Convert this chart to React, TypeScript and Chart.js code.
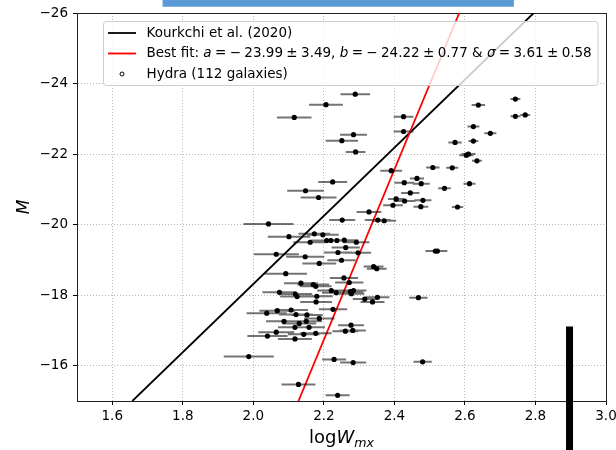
import React, { useEffect, useRef } from 'react';
import { Chart, registerables } from 'chart.js';

Chart.register(...registerables);

// ---- axis ticks ----
const X_TICKS = [1.6, 1.8, 2.0, 2.2, 2.4, 2.6, 2.8, 3.0];
const Y_TICKS = [-26, -24, -22, -20, -18, -16];

// ---- Hydra galaxies: log W_mx, absolute magnitude M, error on log W ----
const LOGW = [
  2.289, 2.206, 2.116, 2.284, 2.251, 2.290, 2.426, 2.426, 2.743, 2.638,
  2.743, 2.771, 2.624, 2.672, 2.572, 2.624, 2.610, 2.604, 2.634, 2.509,
  2.564, 2.391, 2.464, 2.428, 2.476, 2.613, 2.542, 2.445, 2.405, 2.429,
  2.481, 2.396, 2.475, 2.579, 2.516, 2.522, 2.225, 2.148, 2.185, 2.328,
  2.252, 2.353, 2.371, 2.043, 2.101, 2.173, 2.197, 2.161, 2.208, 2.220,
  2.237, 2.258, 2.292, 2.262, 2.240, 2.297, 2.065, 2.147, 2.250, 2.187,
  2.341, 2.350, 2.092, 2.257, 2.272, 2.135, 2.170, 2.177, 2.074, 2.119,
  2.124, 2.221, 2.235, 2.275, 2.284, 2.278, 2.316, 2.352, 2.338, 2.468,
  2.178, 2.226, 2.068, 2.107, 2.038, 2.121, 2.152, 2.187, 2.087, 2.130,
  2.150, 2.277, 2.118, 2.158, 2.261, 2.282, 2.065, 2.040, 2.143, 2.177,
  2.118, 1.987, 2.229, 2.283, 2.480, 2.128, 2.239, 2.180,
];
const MAG = [
  -23.70, -23.40, -23.04, -22.55, -22.38, -22.06, -23.06, -22.64, -23.56, -23.39,
  -23.07, -23.11, -22.78, -22.59, -22.33, -22.37, -22.00, -21.97, -21.81, -21.62,
  -21.61, -21.53, -21.31, -21.19, -21.16, -21.16, -21.03, -20.90, -20.73, -20.67,
  -20.69, -20.55, -20.51, -20.50, -19.25, -19.25, -21.21, -20.96, -20.77, -20.36,
  -20.13, -20.13, -20.11, -20.02, -19.66, -19.74, -19.71, -19.50, -19.55, -19.55,
  -19.55, -19.56, -19.50, -19.35, -19.21, -19.20, -19.16, -19.09, -18.99, -18.90,
  -18.81, -18.75, -18.61, -18.49, -18.36, -18.34, -18.30, -18.25, -18.08, -18.03,
  -17.96, -18.13, -18.07, -18.10, -18.13, -18.04, -17.89, -17.94, -17.81, -17.93,
  -17.81, -17.60, -17.56, -17.58, -17.49, -17.45, -17.44, -17.34, -17.26, -17.20,
  -17.26, -17.15, -17.09, -17.09, -16.98, -17.00, -16.95, -16.84, -16.89, -16.92,
  -16.76, -16.26, -16.18, -16.09, -16.11, -15.47, -15.16, -17.97,
];
const LOGW_ERR = [
  0.042, 0.048, 0.049, 0.038, 0.046, 0.028, 0.028, 0.028, 0.014, 0.019,
  0.014, 0.014, 0.017, 0.017, 0.019, 0.014, 0.020, 0.020, 0.014, 0.019,
  0.017, 0.031, 0.020, 0.028, 0.024, 0.017, 0.018, 0.026, 0.023, 0.031,
  0.024, 0.028, 0.021, 0.016, 0.028, 0.028, 0.041, 0.052, 0.051, 0.035,
  0.037, 0.037, 0.034, 0.071, 0.060, 0.045, 0.045, 0.048, 0.045, 0.040,
  0.040, 0.040, 0.037, 0.040, 0.040, 0.037, 0.064, 0.054, 0.040, 0.048,
  0.028, 0.028, 0.060, 0.040, 0.040, 0.048, 0.045, 0.045, 0.048, 0.048,
  0.048, 0.040, 0.040, 0.037, 0.037, 0.037, 0.034, 0.034, 0.034, 0.026,
  0.045, 0.040, 0.051, 0.048, 0.057, 0.048, 0.045, 0.043, 0.051, 0.048,
  0.045, 0.037, 0.048, 0.045, 0.037, 0.037, 0.051, 0.057, 0.045, 0.045,
  0.048, 0.071, 0.034, 0.037, 0.026, 0.048, 0.034, 0.045,
];

// ---- relations ----
const KOURKCHI_X = [1.657, 2.795];
const KOURKCHI_Y = [-15, -26];
const FIT_X = [2.128, 2.584];
const FIT_Y = [-15, -26];

// ---- overlay bars present in the picture ----
const BLUE_BAR_X = [1.7426, 2.7389];
const BLUE_BAR_Y = [-26.29, -26.29];
const BLACK_BAR_X = [2.8966, 2.8966];
const BLACK_BAR_Y = [-17.11, -13.4];

const SP = '\u2005';
const LEGEND_ROWS = [
  { kind: 'line', color: '#000000', parts: [{ t: 'Kourkchi et al. (2020)', i: false }] },
  {
    kind: 'line', color: '#ff0000', parts: [
      { t: 'Best fit: ', i: false }, { t: 'a', i: true },
      { t: `${SP}=${SP}\u2212${SP}23.99${SP}\u00b1${SP}3.49, `, i: false },
      { t: 'b', i: true },
      { t: `${SP}=${SP}\u2212${SP}24.22${SP}\u00b1${SP}0.77 & `, i: false },
      { t: '\u03c3', i: true },
      { t: `${SP}=${SP}3.61${SP}\u00b1${SP}0.58`, i: false },
    ],
  },
  { kind: 'marker', color: '#000000', parts: [{ t: 'Hydra (112 galaxies)', i: false }] },
];

const FONT = "'DejaVu Sans', sans-serif";

const legendPlugin = {
  id: 'mplLegend',
  afterDatasetsDraw(chart: any) {
    const { ctx, chartArea } = chart;
    const x0 = chartArea.left + 26;
    const y0 = chartArea.top + 8;
    const w = 494.5;
    const h = 64;
    ctx.save();
    ctx.beginPath();
    if (ctx.roundRect) ctx.roundRect(x0 + 0.5, y0 + 0.5, w, h, 3);
    else ctx.rect(x0 + 0.5, y0 + 0.5, w, h);
    ctx.fillStyle = 'rgba(255,255,255,0.8)';
    ctx.fill();
    ctx.strokeStyle = '#cccccc';
    ctx.lineWidth = 1;
    ctx.stroke();
    LEGEND_ROWS.forEach((row, k) => {
      const yc = y0 + 12 + k * 20.5;
      if (row.kind === 'line') {
        ctx.beginPath();
        ctx.moveTo(x0 + 5, yc);
        ctx.lineTo(x0 + 33, yc);
        ctx.strokeStyle = row.color;
        ctx.lineWidth = 1.8;
        ctx.stroke();
      } else {
        ctx.beginPath();
        ctx.arc(x0 + 19, yc, 2, 0, Math.PI * 2);
        ctx.fillStyle = '#ffffff';
        ctx.fill();
        ctx.strokeStyle = '#000000';
        ctx.lineWidth = 1;
        ctx.stroke();
      }
      let x = x0 + 43.5;
      ctx.fillStyle = '#000000';
      ctx.textBaseline = 'middle';
      ctx.textAlign = 'left';
      row.parts.forEach((p) => {
        ctx.font = (p.i ? 'italic ' : '') + '13.5px ' + FONT;
        ctx.fillText(p.t, x, yc);
        x += ctx.measureText(p.t).width;
      });
    });
    ctx.restore();
  },
  afterDraw(chart: any) {
    const { ctx, chartArea } = chart;
    const cx = (chartArea.left + chartArea.right) / 2;
    const base = chartArea.bottom + 42;
    const size = 18;
    const parts = [
      { t: 'log', f: `${size}px ${FONT}`, dy: 0 },
      { t: 'W', f: `italic ${size}px ${FONT}`, dy: 0 },
      { t: 'mx', f: `italic ${size * 0.7}px ${FONT}`, dy: size * 0.22 },
    ];
    ctx.save();
    ctx.fillStyle = '#000000';
    ctx.textBaseline = 'alphabetic';
    ctx.textAlign = 'left';
    let total = 0;
    parts.forEach((p) => { ctx.font = p.f; total += ctx.measureText(p.t).width; });
    let x = cx - total / 2;
    parts.forEach((p) => {
      ctx.font = p.f;
      ctx.fillText(p.t, x, base + p.dy);
      x += ctx.measureText(p.t).width;
    });
    ctx.restore();
  },
};

function fmtY(v: number) {
  return v < 0 ? '\u2212' + Math.abs(v) : String(v);
}

export default function App() {
  const ref = useRef<HTMLCanvasElement | null>(null);

  useEffect(() => {
    if (!ref.current) return;
    const points = LOGW.map((x, i) => ({ x, y: MAG[i] }));
    const errSegs: any[] = [];
    LOGW.forEach((x, i) => {
      errSegs.push({ x: x - LOGW_ERR[i], y: MAG[i] });
      errSegs.push({ x: x + LOGW_ERR[i], y: MAG[i] });
      errSegs.push({ x: x, y: null });
    });
    const pair = (xs: number[], ys: number[]) => xs.map((x, i) => ({ x, y: ys[i] }));

    const gridCommon = {
      color: '#b0b0b0',
      lineWidth: 0.9,
      drawTicks: true,
      tickLength: 4,
      tickColor: '#000000',
      tickWidth: 1,
    };
    const borderCommon = { display: true, color: '#222222', width: 1, dash: [1, 2] };
    const tickFont = { family: FONT, size: 13.5 };

    const chart = new Chart(ref.current, {
      type: 'scatter',
      data: {
        datasets: [
          {
            type: 'line', label: 'blackbar', data: pair(BLACK_BAR_X, BLACK_BAR_Y),
            borderColor: '#000000', borderWidth: 7, pointRadius: 0, borderCapStyle: 'butt', clip: false as any,
          },
          {
            type: 'line', label: 'bluebar', data: pair(BLUE_BAR_X, BLUE_BAR_Y),
            borderColor: '#5b9bd5', borderWidth: 8, pointRadius: 0, borderCapStyle: 'butt', clip: false as any,
          },
          {
            type: 'scatter', label: 'Hydra (112 galaxies)', data: points,
            backgroundColor: '#000000', borderWidth: 0, pointRadius: 2.6,
          },
          {
            type: 'line', label: 'errors', data: errSegs, spanGaps: false,
            borderColor: 'rgba(0,0,0,0.55)', borderWidth: 2, pointRadius: 0, borderCapStyle: 'butt',
          },
          {
            type: 'line', label: 'Best fit', data: pair(FIT_X, FIT_Y),
            borderColor: '#ff0000', borderWidth: 1.8, pointRadius: 0,
          },
          {
            type: 'line', label: 'Kourkchi et al. (2020)', data: pair(KOURKCHI_X, KOURKCHI_Y),
            borderColor: '#000000', borderWidth: 1.8, pointRadius: 0,
          },
        ] as any,
      },
      options: {
        animation: false,
        responsive: false,
        events: [],
        layout: { padding: { top: 13, right: 10, left: 0, bottom: 0 } },
        plugins: { legend: { display: false }, tooltip: { enabled: false } },
        scales: {
          x: {
            type: 'linear', min: 1.5, max: 3.0,
            afterBuildTicks: (s: any) => { s.ticks = X_TICKS.map((v) => ({ value: v })); },
            afterFit: (s: any) => { s.height = 49; s.paddingLeft = 0; s.paddingRight = 0; },
            grid: gridCommon,
            border: borderCommon,
            ticks: { font: tickFont, color: '#000000', padding: 3, maxRotation: 0, autoSkip: false, callback: (v: any) => Number(v).toFixed(1) },
          },
          y: {
            type: 'linear', min: -26, max: -15, reverse: true,
            afterBuildTicks: (s: any) => { s.ticks = Y_TICKS.map((v) => ({ value: v })); },
            afterFit: (s: any) => { s.width = 77; s.paddingTop = 0; s.paddingBottom = 0; },
            grid: gridCommon,
            border: borderCommon,
            ticks: { font: tickFont, color: '#000000', padding: 5, autoSkip: false, callback: (v: any) => fmtY(Number(v)) },
            title: { display: true, text: 'M', color: '#000000', font: { family: FONT, size: 17, style: 'italic' }, padding: { top: 14, bottom: 0 } },
          },
          x2: {
            type: 'linear', axis: 'x', position: 'top', min: 1.5, max: 3.0,
            afterFit: (s: any) => { s.height = 0; s.paddingLeft = 0; s.paddingRight = 0; },
            grid: { display: false }, ticks: { display: false },
            border: { display: true, color: '#222222', width: 1 },
          },
          y2: {
            type: 'linear', axis: 'y', position: 'right', min: -26, max: -15, reverse: true,
            afterFit: (s: any) => { s.width = 0; s.paddingTop = 0; s.paddingBottom = 0; },
            grid: { display: false }, ticks: { display: false },
            border: { display: true, color: '#222222', width: 1 },
          },
        } as any,
      },
      plugins: [legendPlugin],
    });
    return () => chart.destroy();
  }, []);

  return (
    <div style={{ position: 'absolute', left: 0, top: 0, width: 616, height: 450, background: '#ffffff' }}>
      <canvas ref={ref} width={616} height={450} style={{ display: 'block' }} />
    </div>
  );
}
